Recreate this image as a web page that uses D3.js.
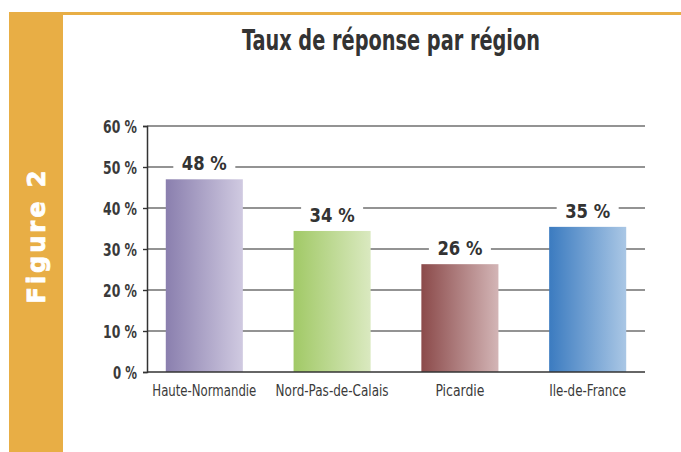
<!DOCTYPE html>
<html><head><meta charset="utf-8">
<script src="https://cdn.jsdelivr.net/npm/d3@7"></script>
<style>html,body{margin:0;padding:0;background:#fff}svg{display:block}</style>
</head><body>
<script>
const categories = ["Haute-Normandie", "Nord-Pas-de-Calais", "Picardie", "Ile-de-France"];
const values = [47, 34.4, 26.3, 35.4];
const valueLabels = ["48 %", "34 %", "26 %", "35 %"];
const tickValues = [0, 10, 20, 30, 40, 50, 60];
const tickLabels = ["0 %", "10 %", "20 %", "30 %", "40 %", "50 %", "60 %"];
const barColors = [["#8a7fae", "#d0cae1"], ["#a1c966", "#dae9c0"], ["#8b4a4a", "#d3b5b6"], ["#3b7bc0", "#aac7e5"]];
const title = "Taux de réponse par région";
const figureLabel = "Figure 2";

const W = 681, H = 452;
const orange = "#e8ae45";
const narrow = "'Liberation Sans Narrow','DejaVu Sans Condensed','Roboto Condensed','Liberation Sans',sans-serif";
const svg = d3.select("body").append("svg").attr("width", W).attr("height", H);

// frame
svg.append("rect").attr("x", 9).attr("y", 12).attr("width", 54).attr("height", H - 12).attr("fill", orange);
svg.append("rect").attr("x", 63).attr("y", 12).attr("width", W - 63).attr("height", 3).attr("fill", orange);
svg.append("text").attr("transform", "translate(45,237) rotate(-90)")
  .attr("text-anchor", "middle").attr("fill", "#fff")
  .style("font-family", "'DejaVu Sans',sans-serif").style("font-weight", "bold")
  .style("font-size", "24px").attr("textLength", 133).attr("lengthAdjust", "spacing")
  .attr("stroke", "#fff").attr("stroke-width", 0.8).text(figureLabel);

// title
svg.append("text").attr("x", 391).attr("y", 50).attr("text-anchor", "middle")
  .attr("fill", "#333").style("font-family", narrow).style("font-weight", "bold")
  .style("font-size", "28px").attr("textLength", 298).attr("lengthAdjust", "spacingAndGlyphs").text(title);

const x = d3.scaleBand().domain(categories).range([147, 645]).paddingInner(0.397).paddingOuter(0.147);
const y = d3.scaleLinear().domain([0, 60]).range([372, 126]);

const defs = svg.append("defs");
barColors.forEach((c, i) => {
  const g = defs.append("linearGradient").attr("id", "g" + i).attr("x1", "0").attr("x2", "1").attr("y1", "0").attr("y2", "0");
  g.append("stop").attr("offset", "0").attr("stop-color", c[0]);
  g.append("stop").attr("offset", "1").attr("stop-color", c[1]);
});

// gridlines
svg.append("g").selectAll("line").data(tickValues.filter(d => d > 0)).join("line")
  .attr("x1", 147).attr("x2", 645).attr("y1", d => y(d)).attr("y2", d => y(d))
  .attr("stroke", "#6f6f6f").attr("stroke-width", 1.4);

// y axis
const yAxis = d3.axisLeft(y).tickValues(tickValues).tickSize(4).tickPadding(6)
  .tickFormat((d, i) => tickLabels[i]);
const ya = svg.append("g").attr("transform", "translate(147,0)").call(yAxis);
ya.select(".domain").attr("stroke", "#333").attr("stroke-width", 1.5);
ya.selectAll(".tick line").attr("stroke", "#333").attr("stroke-width", 1.4);
ya.selectAll(".tick text").attr("fill", "#3a3a3a").style("font-family", narrow)
  .style("font-weight", "bold").style("font-size", "17px").attr("dy", "0.36em")
  .attr("textLength", (d, i) => i === 0 ? 24 : 34).attr("lengthAdjust", "spacingAndGlyphs");

// bars
svg.append("g").selectAll("rect").data(values).join("rect")
  .attr("x", (d, i) => x(categories[i])).attr("width", x.bandwidth())
  .attr("y", d => y(d)).attr("height", d => y(0) - y(d))
  .attr("fill", (d, i) => `url(#g${i})`);

// x axis baseline
svg.append("line").attr("x1", 147).attr("x2", 645).attr("y1", y(0)).attr("y2", y(0))
  .attr("stroke", "#333").attr("stroke-width", 1.5);

// category labels
const xAxis = d3.axisBottom(x).tickSize(0).tickPadding(0);
const xa = svg.append("g").attr("transform", `translate(0,${y(0)})`).call(xAxis);
xa.select(".domain").remove();
const catW = [104, 113, 49, 77];
xa.selectAll(".tick text").attr("y", 24).attr("dy", 0).attr("fill", "#3a3a3a")
  .style("font-family", narrow).style("font-size", "16px")
  .attr("textLength", (d, i) => catW[i]).attr("lengthAdjust", "spacingAndGlyphs");

// value labels
const lab = svg.append("g").selectAll("g").data(values).join("g")
  .attr("transform", (d, i) => `translate(${x(categories[i]) + x.bandwidth() / 2},${y(d) - 9})`);
lab.append("rect").attr("x", -31).attr("width", 62).attr("y", -19).attr("height", 25).attr("fill", "#fff");
lab.append("text").attr("text-anchor", "middle").attr("fill", "#333")
  .style("font-family", "'DejaVu Sans',sans-serif").style("font-weight", "bold")
  .style("font-size", "19px").attr("textLength", 45).attr("lengthAdjust", "spacingAndGlyphs")
  .text((d, i) => valueLabels[i]);
</script>
</body></html>
